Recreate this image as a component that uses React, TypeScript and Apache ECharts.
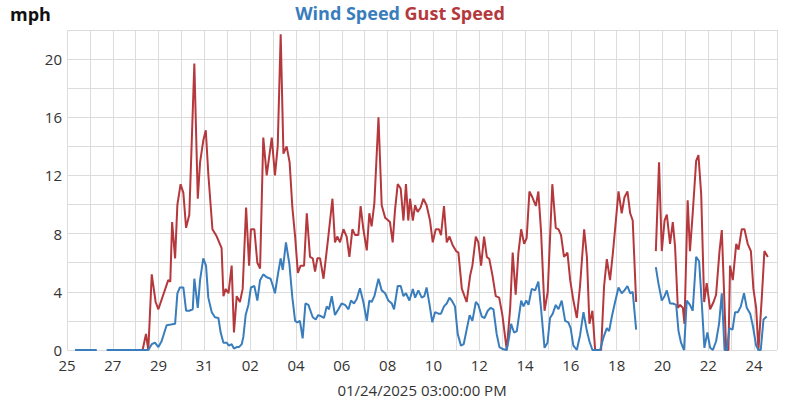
import React, { useEffect, useRef } from "react";
import * as echarts from "echarts";

// x = days since 25 Dec 2024 00:00, y = mph ('-' = no data)
const windSpeed: [number, number | string][] = [
  [0.35, 0], [1.3, 0], [1.5, "-"], [1.73, 0], [3.55, 0], [3.7, 0.4], [3.84, 0.5], [3.99, 0.2],
  [4.13, 0.6], [4.25, 1.2], [4.35, 1.7], [4.54, 1.75], [4.72, 1.8], [4.82, 3.9], [4.93, 4.3],
  [5.08, 4.3], [5.2, 2.7], [5.34, 2.7], [5.49, 2.8], [5.56, 4.9], [5.71, 2.9], [5.81, 4.8], [5.95, 6.3],
  [6.07, 5.8], [6.17, 3.6], [6.32, 2.6], [6.46, 2.25], [6.61, 2.2], [6.71, 1.2], [6.83, 0.5], [6.97, 0.5],
  [7.07, 0.3], [7.19, 0.4], [7.29, 0.1], [7.41, 0.2], [7.51, 0.2], [7.63, 0.4], [7.7, 0.9], [7.8, 2.4], [7.92, 3.1],
  [8.03, 4.3], [8.18, 4.4], [8.31, 3.4], [8.43, 4.8], [8.57, 5.2], [8.72, 5.0], [8.89, 4.9],
  [9.01, 4.3], [9.08, 3.9], [9.23, 5.4], [9.33, 6.3], [9.42, 5.5], [9.56, 7.4], [9.71, 5.9], [9.84, 3.6], [9.96, 2.0],
  [10.06, 1.9], [10.17, 2.0], [10.29, 0.8], [10.41, 3.2], [10.54, 3.1], [10.73, 2.25], [10.86, 2.1], [10.97, 2.4],
  [11.12, 2.3], [11.22, 2.2], [11.34, 3.0], [11.44, 2.8], [11.56, 3.7], [11.7, 2.4], [11.85, 2.8], [11.99, 3.2],
  [12.14, 3.1], [12.29, 2.8], [12.4, 3.4], [12.53, 3.2], [12.65, 3.5], [12.79, 4.25], [12.94, 3.3],
  [13.09, 2.0], [13.2, 3.4], [13.3, 3.3], [13.42, 3.7], [13.6, 4.9], [13.74, 4.1], [13.89, 3.9],
  [14.03, 3.4], [14.18, 3.2], [14.28, 2.8], [14.44, 4.4], [14.57, 4.4], [14.69, 3.7], [14.8, 3.9], [14.95, 3.4],
  [15.1, 4.2], [15.2, 3.6], [15.34, 4.1], [15.49, 3.6], [15.6, 3.7], [15.7, 4.3], [15.82, 3.2], [15.95, 1.9],
  [16.07, 2.6], [16.22, 2.5], [16.33, 2.5], [16.46, 3.0], [16.58, 3.2], [16.7, 3.6], [16.8, 3.4], [16.94, 3.0],
  [17.06, 1.1], [17.2, 0.3], [17.32, 0.4], [17.45, 1.4], [17.58, 2.4], [17.7, 2.0], [17.85, 3.3], [17.96, 3.1],
  [18.11, 2.3], [18.23, 2.2], [18.37, 2.7], [18.5, 2.9], [18.62, 2.8], [18.76, 1.1], [18.88, 0.2],
  [19.05, 0.05], [19.2, 0], [19.3, 0.85], [19.39, 1.8], [19.52, 1.2], [19.64, 1.3], [19.83, 3.4], [19.93, 3.0],
  [20.05, 3.4], [20.15, 3.1], [20.29, 4.2], [20.44, 4.1], [20.58, 4.7], [20.7, 2.8], [20.85, 0.15], [20.98, 0.5],
  [21.09, 2.2], [21.21, 2.5], [21.34, 3.1], [21.46, 2.8], [21.6, 3.4], [21.75, 2.0], [21.89, 1.9], [21.99, 1.5],
  [22.11, 0.3], [22.26, 0], [22.4, 1.0], [22.55, 2.6], [22.7, 1.3], [22.81, 0.6], [22.94, 0],
  [23.28, 0], [23.42, 0.85], [23.57, 1.5], [23.67, 1.3], [23.79, 2.3], [23.93, 3.3],
  [24.08, 4.3], [24.22, 3.9], [24.34, 4.1], [24.47, 4.4], [24.59, 3.9], [24.7, 4.0], [24.85, 1.4],
  [25.3, "-"],
  [25.71, 5.7], [25.82, 4.6], [25.97, 3.4], [26.09, 3.7], [26.19, 4.1], [26.33, 3.2], [26.45, 3.2], [26.6, 3.1],
  [26.7, 1.3], [26.81, 0.5], [26.94, 0], [27.06, 3.4], [27.2, 3.1], [27.32, 2.7], [27.47, 6.4], [27.6, 6.1],
  [27.72, 3.1], [27.83, 0.15], [27.96, 1.2], [28.08, 0.15], [28.2, 0], [28.34, 0.6], [28.47, 1.8], [28.59, 3.9],
  [28.71, 0], [28.81, 0], [28.92, 1.5], [29.06, 1.4], [29.17, 2.6], [29.29, 2.6], [29.42, 3.0], [29.56, 3.9],
  [29.68, 2.9], [29.83, 2.5], [29.94, 1.7], [30.09, 0.3], [30.19, 0], [30.29, 0], [30.41, 2.1], [30.55, 2.3],
];

const gustSpeed: [number, number | string][] = [
  [3.3, 0], [3.45, 1.1], [3.55, 0], [3.7, 5.2], [3.87, 3.3], [3.99, 2.8],
  [4.42, 4.8], [4.51, 4.7], [4.59, 8.8], [4.72, 6.3], [4.82, 10.0], [4.96, 11.4],
  [5.08, 10.8], [5.2, 8.4], [5.34, 9.3], [5.56, 19.7], [5.71, 10.4], [5.81, 12.9], [5.95, 14.4],
  [6.06, 15.1], [6.17, 12.1], [6.35, 8.3], [6.54, 7.8], [6.75, 7.0], [6.83, 3.7], [6.93, 4.2],
  [7.05, 3.9], [7.19, 5.8], [7.29, 1.2], [7.41, 3.7], [7.55, 3.3], [7.67, 4.2], [7.82, 9.8], [7.95, 5.8],
  [8.03, 8.3], [8.18, 8.3], [8.31, 6.0], [8.43, 5.6], [8.57, 14.6], [8.72, 12.0], [8.94, 14.6],
  [9.08, 12.0], [9.2, 14.0], [9.33, 21.7], [9.45, 13.5], [9.59, 14.0], [9.72, 12.9], [9.84, 9.8], [9.96, 7.8],
  [10.08, 5.3], [10.2, 5.8], [10.35, 5.8], [10.47, 9.4], [10.61, 6.4], [10.73, 6.3], [10.83, 5.4], [10.93, 6.3],
  [11.05, 6.3], [11.2, 4.9], [11.41, 7.8], [11.59, 10.4], [11.7, 7.4], [11.8, 7.8], [11.92, 7.4],
  [12.07, 8.3], [12.21, 7.8], [12.33, 6.4], [12.46, 8.3], [12.58, 7.9], [12.72, 7.9], [12.82, 9.9], [12.94, 8.3],
  [13.09, 6.85], [13.2, 9.4], [13.3, 8.5], [13.42, 10.1], [13.6, 16.0], [13.74, 9.95], [13.89, 9.1],
  [14.03, 8.9], [14.1, 8.8], [14.22, 7.4], [14.32, 9.6], [14.44, 11.4], [14.57, 11.1], [14.69, 8.9], [14.8, 11.4], [14.9, 8.9], [14.98, 10.4],
  [15.1, 8.9], [15.2, 9.95], [15.31, 9.5], [15.44, 9.8], [15.56, 10.4], [15.7, 9.95], [15.85, 8.9], [15.97, 7.4],
  [16.1, 8.3], [16.24, 8.3], [16.33, 7.9], [16.46, 9.9], [16.58, 7.4], [16.7, 7.8], [16.84, 7.2], [16.99, 6.8],
  [17.09, 6.7], [17.24, 4.2], [17.45, 3.3], [17.6, 5.1], [17.7, 5.8], [17.85, 7.8], [17.96, 7.4],
  [18.08, 5.8], [18.21, 7.8], [18.33, 6.4], [18.44, 6.25], [18.58, 5.1], [18.72, 3.7], [18.87, 3.6],
  [19.01, 2.4], [19.2, 0], [19.35, 2.9], [19.46, 6.7], [19.59, 3.8], [19.71, 6.7], [19.83, 8.3], [19.96, 7.3],
  [20.07, 7.7], [20.19, 10.9], [20.32, 10.5], [20.47, 9.9], [20.58, 10.9], [20.7, 8.1], [20.85, 2.7], [20.99, 4.0],
  [21.19, 11.4], [21.34, 8.4], [21.46, 8.3], [21.57, 7.9], [21.7, 6.4], [21.85, 6.7], [21.97, 4.8],
  [22.11, 3.4], [22.26, 2.2], [22.4, 4.4], [22.58, 8.3], [22.7, 6.4], [22.81, 1.8], [22.94, 2.7],
  [23.06, 0], [23.32, 0], [23.45, 4.4], [23.57, 6.25], [23.71, 4.8], [23.83, 6.6], [23.93, 8.3],
  [24.08, 10.9], [24.22, 9.4], [24.34, 10.5], [24.47, 10.9], [24.59, 9.4], [24.7, 8.9], [24.85, 3.3],
  [25.3, "-"],
  [25.71, 6.8], [25.85, 12.9], [25.97, 6.8], [26.09, 8.9], [26.19, 9.3], [26.33, 7.3], [26.45, 8.8], [26.55, 7.1],
  [26.67, 2.9], [26.77, 3.1], [26.89, 2.9], [26.96, 1.8], [27.1, 10.3], [27.2, 6.8], [27.32, 9.4], [27.47, 13.0],
  [27.57, 13.4], [27.69, 10.7], [27.82, 3.3], [27.93, 4.6], [28.08, 2.8], [28.23, 3.3], [28.34, 3.8], [28.49, 6.8],
  [28.59, 8.25], [28.78, 0], [28.88, 0], [28.95, 5.8], [29.07, 4.8], [29.22, 7.3], [29.32, 6.9], [29.46, 8.3],
  [29.58, 8.3], [29.72, 7.3], [29.86, 6.8], [29.97, 4.2], [30.09, 2.9], [30.19, 0], [30.34, 3.7], [30.45, 6.8], [30.6, 6.4],
];

const START_UTC = Date.UTC(2024, 11, 25);
const X_DAYS = 31;
const Y_MAX = 22;
const Y_LABEL_STEP = 4;
const TITLE_A = "Wind Speed";
const TITLE_B = "Gust Speed";
const Y_UNIT = "mph";
const X_NAME = "01/24/2025 03:00:00 PM";

const BLUE = "#3a7dbd";
const RED = "#b5383c";
const FONT = "'Open Sans', 'Noto Sans', sans-serif";

function dayLabel(v: number): string {
  const d = new Date(START_UTC + v * 86400000).getUTCDate();
  return d < 10 ? "0" + d : String(d);
}

export default function App() {
  const ref = useRef<HTMLDivElement>(null);
  useEffect(() => {
    document.body.style.margin = "0";
    if (!ref.current) return;
    const chart = echarts.init(ref.current, null, { renderer: "svg" });
    chart.setOption({
      animation: false,
      textStyle: { fontFamily: FONT },
      title: [
        {
          text: `{a|${TITLE_A}} {b|${TITLE_B}}`,
          left: "center",
          top: 4,
          padding: 0,
          textStyle: {
            rich: {
              a: { color: BLUE, fontSize: 18, fontWeight: "bold", fontFamily: FONT },
              b: { color: RED, fontSize: 18, fontWeight: "bold", fontFamily: FONT },
            },
          },
        },
        {
          text: Y_UNIT,
          left: 10,
          top: 5,
          padding: 0,
          textStyle: { color: "#111", fontSize: 18, fontWeight: "bold", fontFamily: FONT },
        },
      ],
      grid: {
        left: 67,
        right: 23,
        top: 30,
        bottom: 50,
        containLabel: false,
        outerBoundsMode: "none",
      },
      xAxis: {
        type: "value",
        min: 0,
        max: X_DAYS,
        interval: 1,
        name: X_NAME,
        nameLocation: "middle",
        nameGap: 33,
        nameTextStyle: { color: "#333", fontSize: 15, lineHeight: 14, fontFamily: FONT },
        axisLine: { show: false },
        axisTick: { show: false },
        axisLabel: {
          color: "#333",
          fontSize: 15,
          lineHeight: 12,
          margin: 9,
          fontFamily: FONT,
          formatter: (v: number) => (Math.round(v) % 2 === 0 ? dayLabel(v) : ""),
        },
        splitLine: { show: true, lineStyle: { color: "#dcdcdc", width: 1 } },
      },
      yAxis: {
        type: "value",
        min: 0,
        max: Y_MAX,
        interval: 2,
        axisLine: { show: false },
        axisTick: { show: false },
        axisLabel: {
          color: "#333",
          fontSize: 15,
          lineHeight: 12,
          margin: 5,
          fontFamily: FONT,
          formatter: (v: number) => (v % Y_LABEL_STEP === 0 ? String(v) : ""),
        },
        splitLine: { show: true, lineStyle: { color: "#dcdcdc", width: 1 } },
      },
      series: [
        {
          name: TITLE_B,
          type: "line",
          data: gustSpeed,
          showSymbol: false,
          connectNulls: false,
          lineStyle: { color: RED, width: 2 },
          itemStyle: { color: RED },
        },
        {
          name: TITLE_A,
          type: "line",
          data: windSpeed,
          showSymbol: false,
          connectNulls: false,
          lineStyle: { color: BLUE, width: 2 },
          itemStyle: { color: BLUE },
        },
      ],
    });
    return () => chart.dispose();
  }, []);
  return <div ref={ref} style={{ width: 800, height: 400 }} />;
}
